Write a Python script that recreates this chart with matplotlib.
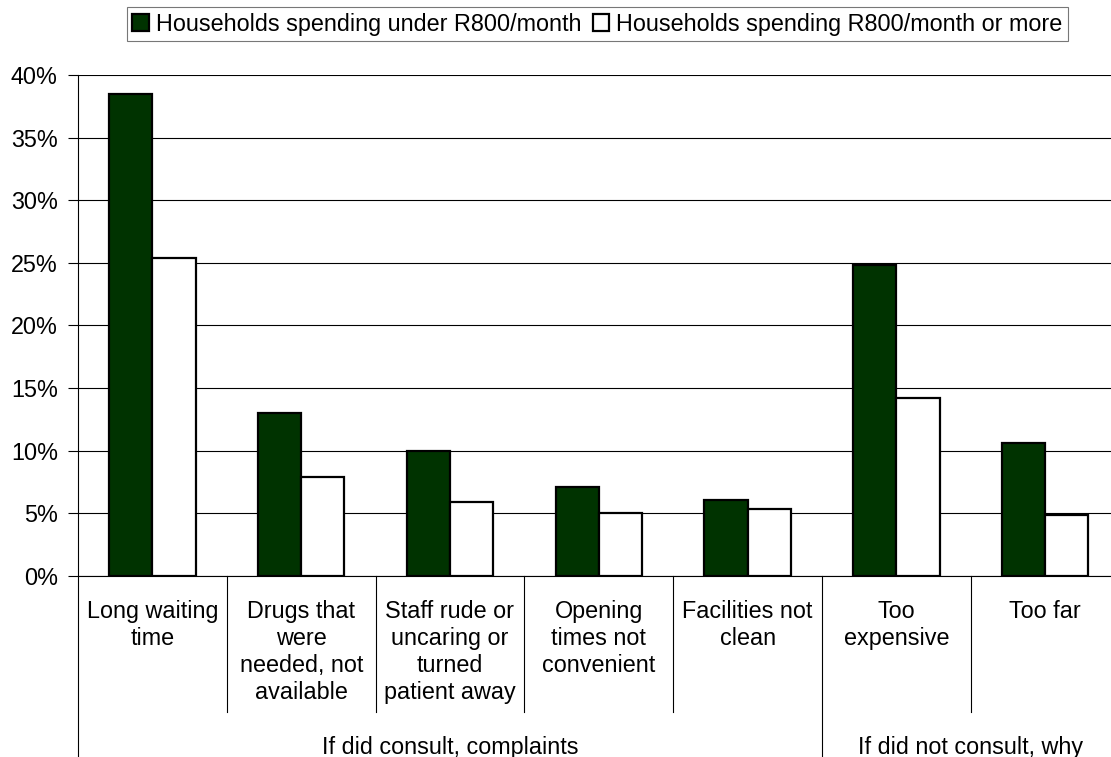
import matplotlib
matplotlib.use("Agg")
import matplotlib.pyplot as plt
from matplotlib.lines import Line2D
from matplotlib.transforms import blended_transform_factory
from matplotlib.patches import Patch

plt.rcParams['font.family'] = ['Liberation Sans', 'DejaVu Sans']

# data (percent)
categories = [
    "Long waiting\ntime",
    "Drugs that\nwere\nneeded, not\navailable",
    "Staff rude or\nuncaring or\nturned\npatient away",
    "Opening\ntimes not\nconvenient",
    "Facilities not\nclean",
    "Too\nexpensive",
    "Too far",
]
groups = ["If did consult, complaints", "If did not consult, why"]
group_sizes = [5, 2]
under_r800 = [38.5, 13.0, 9.95, 7.1, 6.1, 24.8, 10.6]
r800_or_more = [25.4, 7.9, 5.9, 5.0, 5.35, 14.25, 4.9]
series_names = ["Households spending under R800/month",
                "Households spending R800/month or more"]

FS = 16.8
GREEN = "#003300"

fig = plt.figure(figsize=(11.11, 7.57), dpi=100)
ax = fig.add_axes([78 / 1111, 1 - 576 / 757, 1041.6 / 1111, 501 / 757])

x = list(range(len(categories)))
w = 0.29
ax.bar([i - w / 2 for i in x], under_r800, w, color=GREEN,
       edgecolor="black", linewidth=1.6, zorder=3)
ax.bar([i + w / 2 for i in x], r800_or_more, w, color="white",
       edgecolor="black", linewidth=1.6, zorder=3)

ax.set_xlim(-0.5, len(categories) - 0.5)
ax.set_ylim(0, 40)
ax.set_yticks(range(0, 41, 5))
ax.set_yticklabels([f"{v}%" for v in range(0, 41, 5)], fontsize=FS)
ax.tick_params(axis="y", length=7, width=0.8, pad=7.5, direction="out")
ax.set_xticks([])
ax.yaxis.grid(True, color="black", linewidth=0.8, zorder=0)
ax.set_axisbelow(True)
for s in ["top", "right"]:
    ax.spines[s].set_visible(False)
ax.spines["left"].set_linewidth(0.8)
ax.spines["bottom"].set_linewidth(0.8)

# multi-level category axis
trans = blended_transform_factory(ax.transData, ax.transAxes)
for i, lab in enumerate(categories):
    ax.annotate(lab, xy=(i, 0), xycoords=trans, xytext=(0, -24),
                textcoords="offset pixels", ha="center", va="top",
                fontsize=FS, linespacing=1.22)

ax_h = 501
bounds = []
start = 0
for n in group_sizes:
    bounds.append((start - 0.5, start + n - 0.5))
    start += n
for i in range(len(categories) - 1):
    xb = i + 0.5
    is_group = any(abs(xb - b[1]) < 1e-9 for b in bounds[:-1])
    ybot = -181 / ax_h if is_group else -136 / ax_h
    ax.add_line(Line2D([xb, xb], [0, ybot], transform=trans,
                       color="black", linewidth=0.8, clip_on=False))
ax.add_line(Line2D([-0.5, -0.5], [0, -181 / ax_h], transform=trans,
                   color="black", linewidth=0.8, clip_on=False))
for (a, b), g in zip(bounds, groups):
    ax.annotate(g, xy=((a + b) / 2, 0), xycoords=trans, xytext=(0, -178),
                textcoords="offset pixels", ha="center", va="baseline",
                fontsize=FS)

handles = [Patch(facecolor=GREEN, edgecolor="black", linewidth=1.6),
           Patch(facecolor="white", edgecolor="black", linewidth=1.6)]
leg = fig.legend(handles, series_names, loc="center",
                 bbox_to_anchor=(597.5 / 1111, 1 - 24 / 757), ncol=2,
                 fontsize=FS, frameon=True, fancybox=False,
                 handlelength=0.7, handleheight=0.7, handletextpad=0.3,
                 columnspacing=0.5, borderpad=0.25, borderaxespad=0)
leg.get_frame().set_edgecolor("#555555")
leg.get_frame().set_linewidth(0.8)

fig.savefig("out.png", dpi=100)
